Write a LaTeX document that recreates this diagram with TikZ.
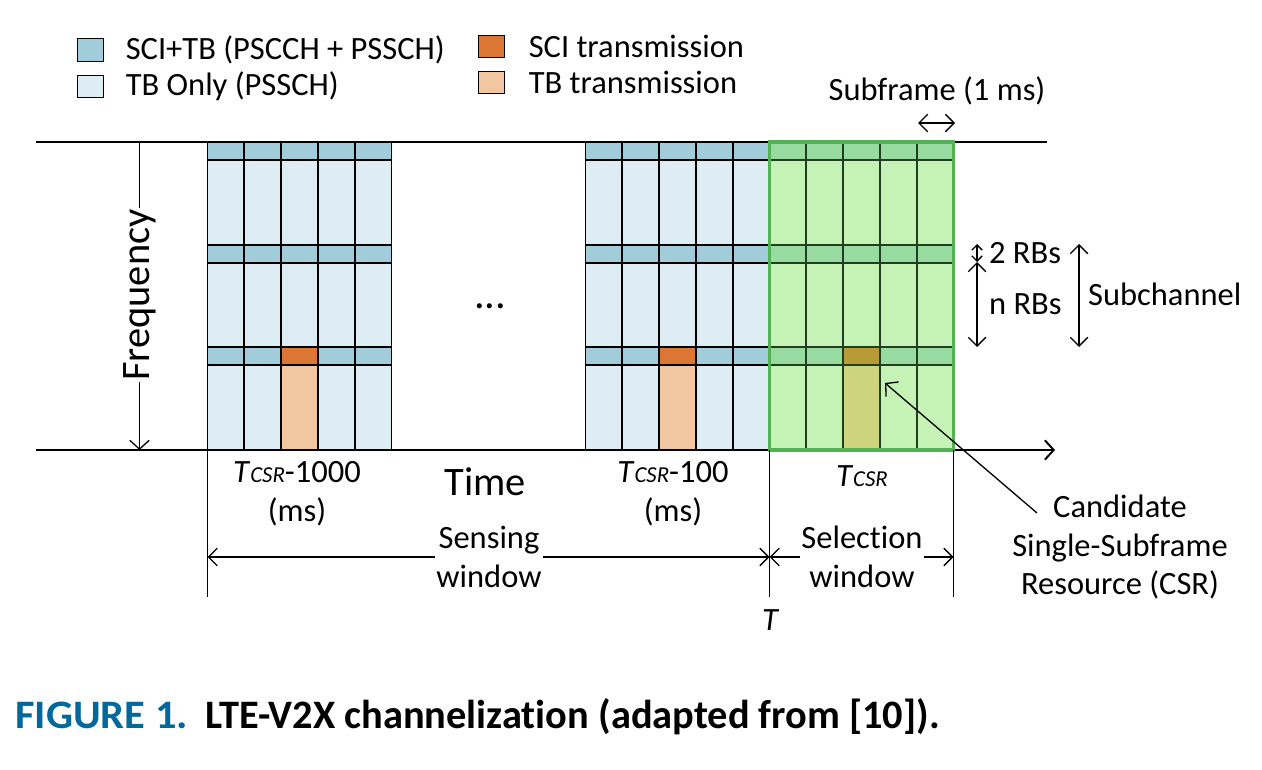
\documentclass[tikz,border=0pt]{standalone}
\usepackage{fontspec}
\setmainfont{Carlito}[Ligatures={TeX,NoCommon}]
\usetikzlibrary{positioning,arrows.meta}

\definecolor{scitb}{HTML}{A3CCDB}
\definecolor{tbonly}{HTML}{DEEDF3}
\definecolor{sciorange}{HTML}{DC7633}
\definecolor{tbpeach}{HTML}{F2C6A0}
\definecolor{selfill}{HTML}{C5F3B5}
\definecolor{selsci}{HTML}{97DBA0}
\definecolor{selline}{HTML}{1F3F1F}
\definecolor{selframe}{HTML}{55B155}
\definecolor{csrsci}{HTML}{B89A37}
\definecolor{csrtb}{HTML}{CED37E}
\definecolor{capblue}{HTML}{00689A}

\tikzset{
	lbl/.style={font=\fontsize{18.5}{22}\selectfont, inner sep=1pt, align=center},
	biglbl/.style={font=\fontsize{23}{26}\selectfont, inner sep=1pt},
	legtext/.style={font=\fontsize{18.5}{22}\selectfont, inner sep=0pt, anchor=west},
	legbox/.style={draw, line width=0.6pt, minimum width=15.3pt, minimum height=13pt, inner sep=0pt},
	cellline/.style={draw=black, line width=1.1pt},
	selcell/.style={draw=selline, line width=1.1pt},
	axis/.style={line width=1.1pt},
	onearrow/.style={line width=0.75pt, -{Straight Barb[length=5pt,width=11pt]}},
	dimarrow/.style={line width=0.75pt, {Straight Barb[length=5pt,width=10pt]}-{Straight Barb[length=5pt,width=10pt]}},
	tinyarrow/.style={line width=0.75pt, {Straight Barb[length=3pt,width=6pt]}-{Straight Barb[length=3pt,width=6pt]}},
}

\begin{document}
\begin{tikzpicture}[x=0.02cm, y=-0.02cm]
	\useasboundingbox (0,0) rectangle (1262,770);

	% legend
	\node[legbox, fill=scitb] (lgscitb) at (90.5,50) {};
	\node[legbox, fill=tbonly] (lgtb) at (90.5,86.5) {};
	\node[legbox, fill=sciorange] (lgsci) at (491.5,46.5) {};
	\node[legbox, fill=tbpeach] (lgtbtx) at (491.5,82.5) {};
	\node[legtext, right=0.42cm of lgscitb] (txscitb) {SCI+TB (PSCCH + PSSCH)};
	\node[legtext, right=0.42cm of lgtb] (txtb) {TB Only (PSSCH)};
	\node[legtext, right=0.46cm of lgsci] (txsci) {SCI transmission};
	\node[legtext, right=0.46cm of lgtbtx] (txtbtx) {TB transmission};

	% axes
	\coordinate (topL) at (36,142);
	\coordinate (topR) at (1047,142);
	\coordinate (timeL) at (36,450);
	\coordinate (timeR) at (1055,450);
	\draw[axis] (topL) -- (topR);
	\draw[axis, -{Straight Barb[length=5pt,width=11pt]}] (timeL) -- (timeR);

	% sensing blocks
	\foreach \bx in {207.5, 585.5} {
		\foreach \i in {0,...,4} {
			\foreach \j in {0,1,2} {
				\filldraw[cellline, fill=scitb] ({\bx+\i*36.8},{142+\j*102.67}) rectangle ++(36.8,18);
				\filldraw[cellline, fill=tbonly] ({\bx+\i*36.8},{160+\j*102.67}) rectangle ++(36.8,84.67);
			}
		}
		\filldraw[cellline, fill=sciorange] ({\bx+2*36.8},347.33) rectangle ++(36.8,18);
		\filldraw[cellline, fill=tbpeach] ({\bx+2*36.8},365.33) rectangle ++(36.8,84.67);
	}

	% selection block
	\foreach \i in {0,...,4} {
		\foreach \j in {0,1,2} {
			\filldraw[selcell, fill=selsci] ({769.5+\i*36.8},{142+\j*102.67}) rectangle ++(36.8,18);
			\filldraw[selcell, fill=selfill] ({769.5+\i*36.8},{160+\j*102.67}) rectangle ++(36.8,84.67);
		}
	}
	\filldraw[selcell, fill=csrsci] (843.1,347.33) rectangle ++(36.8,18);
	\filldraw[selcell, fill=csrtb] (843.1,365.33) rectangle ++(36.8,84.67);
	\draw[selframe, line width=1.8pt] (769.5,142) rectangle (953.5,450);

	% frequency
	\coordinate (ftop) at (139.5,142);
	\coordinate (fbot) at (139.5,450);
	\draw[onearrow] (ftop) -- (fbot);
	\node[biglbl, fill=white, rotate=90] (freq) at (139.5,295) {Frequency};

	\node[font=\fontsize{24}{24}\selectfont, inner sep=1pt] (dots) at (490,306) {...};

	% subframe
	\node[lbl] (subfr) at (937,91) {Subframe (1 ms)};
	\coordinate (sfL) at (918,123);
	\coordinate (sfR) at (955,123);
	\draw[dimarrow] (sfL) -- (sfR);

	% RBs and subchannel
	\coordinate (rbA) at (977,244);
	\coordinate (rbB) at (977,262);
	\coordinate (rbC) at (977,347);
	\draw[tinyarrow] (rbA) -- (rbB);
	\draw[dimarrow] (rbB) -- (rbC);
	\node[lbl, anchor=west] (tworb) at (987,253) {2 RBs};
	\node[lbl, anchor=west] (nrb) at (987,304) {n RBs};
	\coordinate (scA) at (1079,244);
	\coordinate (scB) at (1079,347);
	\draw[dimarrow] (scA) -- (scB);
	\node[lbl, anchor=west] (subch) at (1086,294) {Subchannel};

	% csr pointer
	\node[lbl] (csr) at (1120,547) {Candidate\\Single-Subframe\\Resource (CSR)};
	\coordinate (csrfoot) at (1037,513);
	\coordinate (csrtip) at (885,383);
	\draw[onearrow] (csrfoot) -- (csrtip);

	% time marks
	\coordinate (tk1) at (207.5,450);
	\coordinate (tk1b) at (207.5,597);
	\coordinate (tk2) at (769.5,450);
	\coordinate (tk2b) at (769.5,597);
	\coordinate (tk3) at (953.5,450);
	\coordinate (tk3b) at (953.5,597);
	\draw[line width=0.75pt] (tk1) -- (tk1b);
	\draw[line width=0.75pt] (tk2) -- (tk2b);
	\draw[line width=0.75pt] (tk3) -- (tk3b);

	\node[lbl] (t1000) at (297,494) {\textit{T}{\fontsize{13}{13}\selectfont\itshape CSR}-1000\\(ms)};
	\node[lbl] (t100) at (673,494) {\textit{T}{\fontsize{13}{13}\selectfont\itshape CSR}-100\\(ms)};
	\node[lbl] (tcsr) at (862,476) {\textit{T}{\fontsize{13}{13}\selectfont\itshape CSR}};
	\node[biglbl] (time) at (485,482) {Time};

	% windows
	\coordinate (sensL) at (207.5,557);
	\coordinate (sensR) at (769.5,557);
	\coordinate (selR) at (953.5,557);
	\draw[dimarrow] (sensL) -- (sensR);
	\draw[dimarrow] (sensR) -- (selR);
	\node[lbl, fill=white] (sens) at (489,557) {Sensing\\window};
	\node[lbl, fill=white] (sel) at (862,557) {Selection\\window};
	\node[lbl, font=\fontsize{18.5}{22}\selectfont\itshape] (tT) at (770,620) {T};

	% caption
	\node[anchor=base west, inner sep=0pt, font=\fontsize{23}{26}\selectfont\bfseries, text=capblue] (capnum) at (15,728) {\scalebox{1.05}[1]{FIGURE 1.}};
	\node[anchor=base west, inner sep=0pt, font=\fontsize{23}{26}\selectfont\bfseries] (captxt) at (205,728) {LTE-V2X channelization (adapted from [10]).};
\end{tikzpicture}
\end{document}
